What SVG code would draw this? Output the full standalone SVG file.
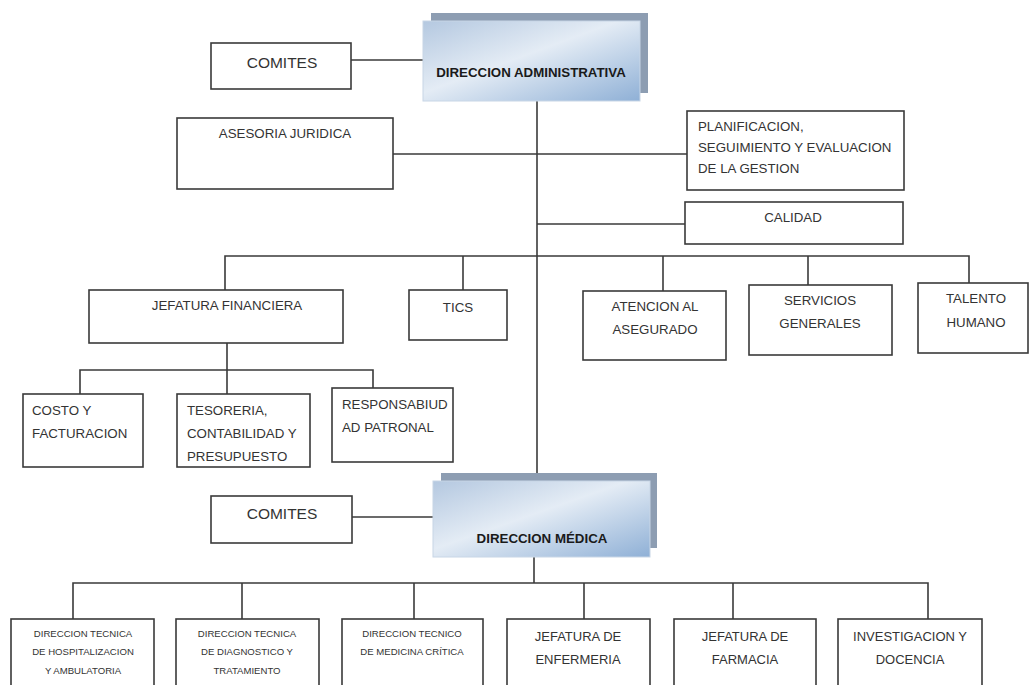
<svg xmlns="http://www.w3.org/2000/svg" width="1029" height="685" viewBox="0 0 1029 685">
<defs>
<linearGradient id="dirGrad" x1="0" y1="0" x2="1" y2="1">
<stop offset="0" stop-color="#b4c8e0"/>
<stop offset="0.45" stop-color="#e4ecf5"/>
<stop offset="1" stop-color="#8fb0d6"/>
</linearGradient>
<style>
.box{fill:#fff;stroke:#3a3a3a;stroke-width:1.6}
.shadow{fill:#8d9db2}
.dir{fill:url(#dirGrad);stroke:#c8d6e6;stroke-width:1}
.ln{fill:none;stroke:#3a3a3a;stroke-width:1.6}
text{font-family:"Liberation Sans",Arial,sans-serif;fill:#333;font-size:13.3px}
.c{text-anchor:middle}
.b{font-weight:bold;fill:#1a1a1a}
.s{font-size:9.6px}
.m{font-size:13px}
.l{font-size:15.5px}
</style>
</defs>
<rect width="1029" height="685" fill="#fff"/>
<g id="connectors">
<path class="ln" d="M351 60H423"/>
<path class="ln" d="M537 101V473"/>
<path class="ln" d="M393 154H687"/>
<path class="ln" d="M537 224H685"/>
<path class="ln" d="M225 290V256H969V283"/>
<path class="ln" d="M463 256V290"/>
<path class="ln" d="M663 256V291"/>
<path class="ln" d="M808 256V285"/>
<path class="ln" d="M227 343V370"/>
<path class="ln" d="M80 394V370H373V388"/>
<path class="ln" d="M227 370V394"/>
<path class="ln" d="M352 517H433"/>
<path class="ln" d="M534 557V583"/>
<path class="ln" d="M73 619V583H928V619"/>
<path class="ln" d="M242 583V619"/>
<path class="ln" d="M414 583V619"/>
<path class="ln" d="M584 583V619"/>
<path class="ln" d="M733 583V619"/>
</g>
<g id="comites-top"><rect class="box" x="211" y="43" width="140" height="46"/><text class="c l" x="282" y="68">COMITES</text></g>
<g id="direccion-administrativa"><rect class="shadow" x="431" y="13" width="217" height="80"/><rect class="dir" x="423" y="21" width="217" height="80"/><text class="c b" x="531" y="77" font-size="12.8">DIRECCION ADMINISTRATIVA</text></g>
<g id="asesoria"><rect class="box" x="177" y="118" width="216" height="71"/><text class="c" x="285" y="138">ASESORIA JURIDICA</text></g>
<g id="planificacion"><rect class="box" x="687" y="111" width="217" height="79"/><text x="698" y="131">PLANIFICACION,</text><text x="698" y="152">SEGUIMIENTO Y EVALUACION</text><text x="698" y="173">DE LA GESTION</text></g>
<g id="calidad"><rect class="box" x="685" y="202" width="218" height="42"/><text class="c" x="793" y="222">CALIDAD</text></g>
<g id="jefatura-financiera"><rect class="box" x="89" y="290" width="254" height="53"/><text class="c" x="227" y="310">JEFATURA FINANCIERA</text></g>
<g id="tics"><rect class="box" x="409" y="290" width="98" height="50"/><text class="c" x="458" y="312">TICS</text></g>
<g id="atencion"><rect class="box" x="583" y="291" width="143" height="69"/><text class="c" x="655" y="311">ATENCION AL</text><text class="c" x="655" y="334">ASEGURADO</text></g>
<g id="servicios"><rect class="box" x="749" y="285" width="143" height="70"/><text class="c" x="820" y="305">SERVICIOS</text><text class="c" x="820" y="328">GENERALES</text></g>
<g id="talento"><rect class="box" x="918" y="283" width="110" height="70"/><text class="c" x="976" y="303">TALENTO</text><text class="c" x="976" y="327">HUMANO</text></g>
<g id="costo"><rect class="box" x="23" y="394" width="120" height="73"/><text x="32" y="415">COSTO Y</text><text x="32" y="438">FACTURACION</text></g>
<g id="tesoreria"><rect class="box" x="177" y="394" width="133" height="73"/><text x="187" y="415">TESORERIA,</text><text x="187" y="438">CONTABILIDAD Y</text><text x="187" y="461">PRESUPUESTO</text></g>
<g id="responsabilidad"><rect class="box" x="332" y="388" width="121" height="74"/><text x="342" y="409" font-size="12.8">RESPONSABIUD</text><text x="342" y="432" font-size="12.8">AD PATRONAL</text></g>
<g id="comites-bottom"><rect class="box" x="211" y="496" width="141" height="47"/><text class="c l" x="282" y="519">COMITES</text></g>
<g id="direccion-medica"><rect class="shadow" x="441" y="473" width="216" height="75"/><rect class="dir" x="433" y="481" width="217" height="76"/><text class="c b" x="542" y="543" font-size="16">DIRECCION MÉDICA</text></g>
<g id="hospitalizacion"><rect class="box" x="11" y="619" width="143" height="70"/><text class="c s" x="83" y="637">DIRECCION TECNICA</text><text class="c s" x="83" y="655">DE HOSPITALIZACION</text><text class="c s" x="83" y="674">Y AMBULATORIA</text></g>
<g id="diagnostico"><rect class="box" x="176" y="619" width="143" height="70"/><text class="c s" x="247" y="637">DIRECCION TECNICA</text><text class="c s" x="247" y="655">DE DIAGNOSTICO  Y</text><text class="c s" x="247" y="674">TRATAMIENTO</text></g>
<g id="medicina-critica"><rect class="box" x="342" y="619" width="141" height="70"/><text class="c s" x="412" y="637">DIRECCION TECNICO</text><text class="c s" x="412" y="655">DE MEDICINA CRÍTICA</text></g>
<g id="enfermeria"><rect class="box" x="507" y="619" width="143" height="70"/><text class="c m" x="578" y="641">JEFATURA DE</text><text class="c m" x="578" y="664">ENFERMERIA</text></g>
<g id="farmacia"><rect class="box" x="674" y="619" width="142" height="70"/><text class="c m" x="745" y="641">JEFATURA DE</text><text class="c m" x="745" y="664">FARMACIA</text></g>
<g id="investigacion"><rect class="box" x="838" y="619" width="144" height="70"/><text class="c m" x="910" y="641">INVESTIGACION Y</text><text class="c m" x="910" y="664">DOCENCIA</text></g>
</svg>
